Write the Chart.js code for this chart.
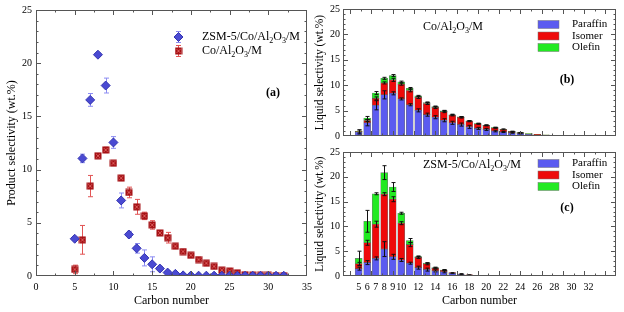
<!DOCTYPE html>
<html><head><meta charset="utf-8">
<script src="https://cdn.jsdelivr.net/npm/chart.js@4.4.1/dist/chart.umd.min.js"></script>
<style>
html,body{margin:0;padding:0;background:#fff;width:624px;height:312px;overflow:hidden;}
canvas{position:absolute;}
</style></head><body>
<canvas id="ca" width="318" height="312" style="left:0;top:0"></canvas>
<canvas id="cb" width="324" height="145" style="left:300px;top:0"></canvas>
<canvas id="cc" width="324" height="169" style="left:300px;top:143px"></canvas>
<script>
// ---------- data ----------
const carbon = [5,6,7,8,9,10,11,12,13,14,15,16,17,18,19,20,21,22,23,24,25,26,27,28,29,30,31,32];
const zsmTotal = [3.5,11.05,16.55,20.8,17.9,12.55,7.1,3.9,2.6,1.7,1.1,0.7,0.32,0.2,0.06,0.04,0.03,0.03,0.03,0.02,0.02,0.02,0.02,0.02,0.02,0.02,0.02,0.02];
const zsmErr   = [0.15,0.4,0.6,0.15,0.7,0.55,0.7,0.3,0.45,0.75,0.7,0.2,0.15,0.1,0,0,0,0,0,0,0,0,0,0,0,0,0,0];
const coTotal  = [0.62,3.4,8.45,11.3,11.85,10.6,9.2,7.85,6.5,5.65,4.8,4.05,3.6,2.8,2.3,1.95,1.55,1.2,0.9,0.55,0.45,0.3,0.12,0.08,0.06,0.05,0.04,0.03];
const coErr    = [0.4,1.35,1.0,0.15,0.25,0.15,0.15,0.5,0.7,0.35,0.4,0.15,0.5,0.15,0.2,0.15,0.1,0.1,0.1,0.15,0.25,0.1,0,0,0,0,0,0];

const paraffinCo = [0.8,2.6,6.05,8.1,8.4,7.3,6.15,5.05,4.2,3.7,3.1,2.6,2.25,1.8,1.5,1.3,0.97,0.78,0.65,0.52,0.35,0.25,0.15,0.1,0.07,0.05,0.03,0.02];
const isomerCo   = [0.05,0.45,1.35,2.35,2.65,2.9,2.8,2.55,2.2,1.9,1.7,1.5,1.43,1.1,0.9,0.78,0.65,0.52,0.25,0.13,0.1,0.07,0.05,0.02,0.03,0.01,0.01,0.01];
const olefinCo   = [0.05,0.5,1.05,0.9,0.85,0.45,0.45,0.3,0.2,0.2,0.15,0.08,0.07,0.07,0.05,0.04,0.03,0.02,0.02,0.02,0.01,0.01,0.01,0,0,0,0,0];
const paraffinCoErr = [0.4,0.6,0.9,0.8,0.3,0.2,0.2,0.3,0.3,0.3,0.3,0.3,0.3,0.3,0.2,0.2,0.15,0.1,0.1,0.1,0,0,0,0,0,0,0,0];
const isomerCoErr   = [0,0.2,0.3,0.2,0.3,0.2,0.25,0.2,0.2,0.2,0.2,0.15,0.15,0.1,0.1,0.1,0.1,0.1,0.05,0.05,0,0,0,0,0,0,0,0];
const olefinCoErr   = [0.3,0.3,0.3,0.2,0.2,0.15,0.15,0.1,0.1,0.1,0.1,0.1,0.05,0.05,0.05,0.05,0.05,0,0,0,0,0,0,0,0,0,0,0];

const paraffinZsm = [1.48,2.7,3.55,5.42,3.87,3.23,2.58,1.68,1.29,1.03,0.84,0.58,0.38,0.2,0.1,0.03,0.02,0.02,0.01,0.01,0.01,0.01,0.01,0.01,0.01,0.01,0.01,0.01];
const isomerZsm   = [0.97,4.0,6.9,11.08,11.61,7.42,3.74,2.06,1.16,0.52,0.32,0.1,0.02,0.04,0,0,0,0,0,0,0,0,0,0,0,0,0,0];
const olefinZsm   = [1.1,4.33,6.13,4.34,2.46,2.0,0.84,0.2,0.13,0.13,0.04,0,0,0,0,0,0,0,0,0,0,0,0,0,0,0,0,0];
const paraffinZsmErr = [0.3,0.4,0.3,1.5,0.5,0.3,0.2,0.3,0.3,0.2,0.2,0.1,0.1,0.05,0,0,0,0,0,0,0,0,0,0,0,0,0,0];
const isomerZsmErr   = [0.3,0.5,0.6,0.3,0.5,0.3,0.4,0.2,0.2,0.1,0.1,0,0,0,0,0,0,0,0,0,0,0,0,0,0,0,0,0];
const olefinZsmErr   = [1.45,2.2,0.2,1.4,0.9,0.2,0.4,0.1,0.1,0.1,0.1,0,0,0,0,0,0,0,0,0,0,0,0,0,0,0,0,0];

const xTicksA = [0,5,10,15,20,25,30,35];
const yTicks = [0,5,10,15,20,25];
const xLabelsC = [5,6,7,8,9,10,12,14,16,18,20,22,24,26,28,30,32];

// ---------- styles ----------
const FAM = "'Liberation Serif', 'Times New Roman', serif";
Chart.defaults.font.family = FAM;
Chart.defaults.font.size = 10;
Chart.defaults.color = '#000';
const BLUE = '#5b5bf0', RED = '#ee0a0a', GREEN = '#22ea22';

function range(a, b, s){ const r=[]; for(let v=a; v<=b+1e-9; v+=s) r.push(+v.toFixed(4)); return r; }

function crossSquare(){
  const c=document.createElement('canvas'); c.width=8; c.height=8;
  const g=c.getContext('2d');
  g.fillStyle='#a51014'; g.fillRect(0.5,0.5,7,7);
  g.strokeStyle='#d85858'; g.lineWidth=1;
  g.beginPath(); g.moveTo(2,2); g.lineTo(6,6); g.moveTo(6,2); g.lineTo(2,6); g.stroke();
  return c;
}
const redMark = crossSquare();

function parseRich(str){
  const segs=[]; let buf='';
  for(let i=0;i<str.length;i++){
    if(str[i]==='_'){ if(buf) segs.push([buf,0]); buf=''; segs.push([str[i+1],1]); i++; }
    else buf+=str[i];
  }
  if(buf) segs.push([buf,0]);
  return segs;
}
function drawRich(ctx, str, x, y, size, align, bold){
  const segs=parseRich(str);
  const f=(s)=> (bold?'bold ':'')+(s[1]?Math.round(size*0.68):size)+'px '+FAM;
  let w=0; segs.forEach(s=>{ctx.font=f(s); w+=ctx.measureText(s[0]).width;});
  let cx = align==='center' ? x-w/2 : x;
  ctx.textBaseline='middle'; ctx.textAlign='left'; ctx.fillStyle='#000';
  segs.forEach(s=>{ctx.font=f(s); ctx.fillText(s[0], cx, y+(s[1]?size*0.3:0)); cx+=ctx.measureText(s[0]).width;});
}

// frame + inward ticks
const framePlugin = {
  id:'frame',
  afterDraw(chart, args, o){
    const {ctx, chartArea:a, scales:{x,y}} = chart;
    ctx.save();
    ctx.strokeStyle='#555'; ctx.lineWidth=1;
    ctx.strokeRect(a.left+0.5, a.top+0.5, a.right-a.left-1, a.bottom-a.top-1);
    ctx.beginPath();
    const vt=(vals,len)=>vals.forEach(v=>{ const p=Math.round(x.getPixelForValue(v))+0.5; if(p<a.left+1||p>a.right-1) return;
      ctx.moveTo(p,a.bottom); ctx.lineTo(p,a.bottom-len); ctx.moveTo(p,a.top); ctx.lineTo(p,a.top+len); });
    const ht=(vals,len)=>vals.forEach(v=>{ const p=Math.round(y.getPixelForValue(v))+0.5; if(p<a.top+1||p>a.bottom-1) return;
      ctx.moveTo(a.left,p); ctx.lineTo(a.left+len,p); ctx.moveTo(a.right,p); ctx.lineTo(a.right-len,p); });
    vt(o.xMajor,5); vt(o.xMinor,2.5); ht(o.yMajor,5); ht(o.yMinor,2.5);
    ctx.stroke();
    ctx.restore();
  }
};

function drawErrors(chart){
  const {ctx, scales:{x,y}} = chart;
  const stacked = !!chart.options.scales.y.stacked;
  ctx.save();
  chart.data.datasets.forEach((ds,di)=>{
    if(!ds.errors) return;
    ctx.strokeStyle=ds.errorColor; ctx.lineWidth=1;
    ds.data.forEach((p,j)=>{
      const e=ds.errors[j]; if(!e) return;
      let v=p.y;
      if(stacked){ v=0; for(let k=0;k<=di;k++) v+=chart.data.datasets[k].data[j].y; }
      const px=Math.round(x.getPixelForValue(p.x))+0.5;
      const y1=y.getPixelForValue(v+e), y2=y.getPixelForValue(Math.max(0,v-e));
      const c=ds.capHalf||2.5;
      ctx.beginPath();
      ctx.moveTo(px,y1); ctx.lineTo(px,y2);
      ctx.moveTo(px-c,y1); ctx.lineTo(px+c,y1);
      ctx.moveTo(px-c,y2); ctx.lineTo(px+c,y2);
      ctx.stroke();
    });
  });
  ctx.restore();
}
const errBehind = { id:'errBehind', beforeDatasetsDraw(chart){ drawErrors(chart); } };
const errFront  = { id:'errFront', afterDatasetsDraw(chart){ drawErrors(chart); } };

// annotations for left chart
const notesA = {
  id:'notesA',
  afterDraw(chart){
    const ctx=chart.ctx; ctx.save();
    const ds=chart.data.datasets;
    const rows=[[37,ds[0]],[51,ds[1]]];
    rows.forEach(([yy,d])=>{
      const xx=178;
      ctx.strokeStyle=d.errorColor; ctx.lineWidth=1;
      ctx.beginPath(); ctx.moveTo(xx+0.5,yy-6); ctx.lineTo(xx+0.5,yy+6);
      ctx.moveTo(xx-2,yy-6+0.5); ctx.lineTo(xx+3,yy-6+0.5); ctx.moveTo(xx-2,yy+6-0.5); ctx.lineTo(xx+3,yy+6-0.5); ctx.stroke();
      if(d.pointStyle==='rectRot'){
        ctx.fillStyle=d.backgroundColor; ctx.strokeStyle=d.borderColor;
        ctx.beginPath(); ctx.moveTo(xx+0.5-4.5,yy); ctx.lineTo(xx+0.5,yy-4.5); ctx.lineTo(xx+0.5+4.5,yy); ctx.lineTo(xx+0.5,yy+4.5); ctx.closePath(); ctx.fill(); ctx.stroke();
      } else {
        ctx.drawImage(d.pointStyle, xx+0.5-4, yy-4);
      }
      drawRich(ctx, d.label, 202, yy, 12, 'left');
    });
    drawRich(ctx, '(a)', 273, 93, 12, 'center', true);
    ctx.restore();
  }
};

const notesBar = {
  id:'notesBar',
  afterDraw(chart, args, o){
    const ctx=chart.ctx; ctx.save();
    drawRich(ctx, o.title, o.titleX, o.titleY, 12, 'center');
    drawRich(ctx, o.tag, o.tagX, o.tagY, 12, 'center', true);
    chart.data.datasets.forEach((d,i)=>{
      const cy=o.legY+i*11.5;
      ctx.fillStyle=d.backgroundColor; ctx.fillRect(o.legX, cy-4, 21, 8);
      ctx.strokeStyle='#777'; ctx.lineWidth=0.5; ctx.strokeRect(o.legX, cy-4, 21, 8);
      drawRich(ctx, d.label, o.legX+34, cy, 11, 'left');
    });
    ctx.restore();
  }
};

function fixW(w){ return s=>{ s.width=w; }; }
function fixH(h){ return s=>{ if(s.options.display!==false) s.height=h; }; }

// ---------- chart (a) ----------
new Chart(document.getElementById('ca'), {
  type:'scatter',
  data:{ datasets:[
    { label:'ZSM-5/Co/Al_2O_3/M', data:carbon.map((c,i)=>({x:c,y:zsmTotal[i]})), errors:zsmErr, errorColor:'#8c8cf2',
      pointStyle:'rectRot', pointRadius:4.5, backgroundColor:'#4a4ad2', borderColor:'#3434b0', borderWidth:1 },
    { label:'Co/Al_2O_3/M', data:carbon.map((c,i)=>({x:c,y:coTotal[i]})), errors:coErr, errorColor:'#e25555',
      pointStyle:redMark, pointRadius:4, backgroundColor:'#a51014', borderColor:'#a51014' }
  ]},
  options:{
    responsive:false, animation:false, devicePixelRatio:1,
    layout:{ padding:{ top:8, right:11, left:0, bottom:0 } },
    plugins:{ legend:{display:false}, tooltip:{enabled:false},
      frame:{ xMajor:xTicksA, xMinor:range(2.5,32.5,5), yMajor:yTicks, yMinor:range(0,25,1) } },
    scales:{
      x:{ type:'linear', min:0, max:35, afterFit:fixH(36),
        afterBuildTicks:s=>{ s.ticks=xTicksA.map(v=>({value:v})); },
        grid:{display:false, drawTicks:false}, border:{display:false},
        ticks:{ padding:5, font:{size:10}, maxRotation:0 },
        title:{ display:true, text:'Carbon number', font:{size:12}, padding:{top:0,bottom:4} } },
      y:{ min:0, max:25, afterFit:fixW(36),
        afterBuildTicks:s=>{ s.ticks=yTicks.map(v=>({value:v})); },
        grid:{display:false, drawTicks:false}, border:{display:false},
        ticks:{ padding:4, font:{size:10} },
        title:{ display:true, text:'Product selectivity (wt.%)', font:{size:12}, padding:{top:5,bottom:0} } }
    }
  },
  plugins:[framePlugin, errBehind, notesA]
});

// ---------- bar charts ----------
function barOpts(showX, padding, notes){
  return {
    responsive:false, animation:false, devicePixelRatio:1,
    layout:{ padding },
    plugins:{ legend:{display:false}, tooltip:{enabled:false},
      frame:{ xMajor:range(4,34,2.5), xMinor:range(5.25,34,2.5), yMajor:yTicks, yMinor:range(0,25,1) },
      notesBar:notes },
    scales:{
      x:{ type:'linear', min:4.1, max:34.3, stacked:true, display:showX,
        afterFit:fixH(36),
        afterBuildTicks:s=>{ s.ticks=xLabelsC.map(v=>({value:v})); },
        grid:{display:false, drawTicks:false}, border:{display:false},
        ticks:{ padding:5, font:{size:10}, autoSkip:false, maxRotation:0 },
        title:{ display:true, text:'Carbon number', font:{size:12}, padding:{top:0,bottom:4} } },
      y:{ min:0, max:25, stacked:true, afterFit:fixW(43),
        afterBuildTicks:s=>{ s.ticks=yTicks.map(v=>({value:v})); },
        grid:{display:false, drawTicks:false}, border:{display:false},
        ticks:{ padding:3, font:{size:10} },
        title:{ display:true, text:'Liquid selectivity (wt.%)', font:{size:11.5}, padding:{top:13,bottom:0} } }
    }
  };
}
function barSets(p, iso, ole, pe, ie, oe){
  const mk=(label,vals,errs,col)=>({ label, data:carbon.map((c,i)=>({x:c,y:vals[i]})), errors:errs, errorColor:'#111', capHalf:2,
    backgroundColor:col, borderColor:'rgba(60,60,60,0.7)', borderWidth:0.6, barThickness:7, borderSkipped:false });
  return [ mk('Paraffin',p,pe,BLUE), mk('Isomer',iso,ie,RED), mk('Olefin',ole,oe,GREEN) ];
}

new Chart(document.getElementById('cb'), {
  type:'bar',
  data:{ datasets: barSets(paraffinCo, isomerCo, olefinCo, paraffinCoErr, isomerCoErr, olefinCoErr) },
  options: barOpts(false, {top:9,right:8,bottom:7,left:0},
    { title:'Co/Al_2O_3/M', titleX:153, titleY:27, tag:'(b)', tagX:267, tagY:80, legX:238, legY:24.5 }),
  plugins:[framePlugin, errFront, notesBar]
});

new Chart(document.getElementById('cc'), {
  type:'bar',
  data:{ datasets: barSets(paraffinZsm, isomerZsm, olefinZsm, paraffinZsmErr, isomerZsmErr, olefinZsmErr) },
  options: barOpts(true, {top:6,right:8,bottom:0,left:0},
    { title:'ZSM-5/Co/Al_2O_3/M', titleX:172, titleY:22, tag:'(c)', tagX:267, tagY:65, legX:238, legY:20.5 }),
  plugins:[framePlugin, errFront, notesBar]
});
</script>
</body></html>
